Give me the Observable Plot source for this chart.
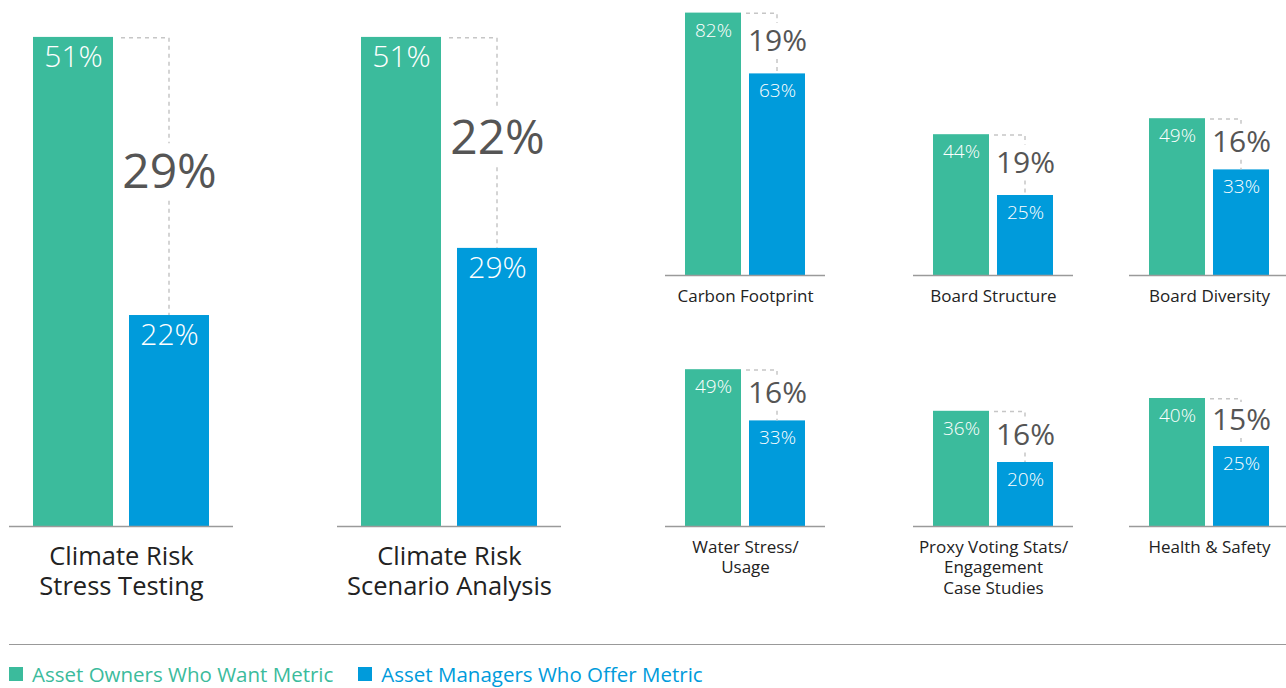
<!DOCTYPE html>
<html><head><meta charset="utf-8">
<script src="https://cdn.jsdelivr.net/npm/d3@7"></script>
<script src="https://cdn.jsdelivr.net/npm/@observablehq/plot@0.6"></script>
<style>
body{margin:0;background:#fff;font-family:"Open Sans",sans-serif;}
#chart{position:relative;width:1286px;height:688px;overflow:hidden;background:#fff;}
.panel{position:absolute;}
.sep{position:absolute;left:9px;top:644px;width:1277px;border-top:1.5px solid #999;}
.legend{position:absolute;top:664px;left:9px;display:flex;align-items:center;font-size:20.5px;line-height:1;white-space:nowrap;}
.item{display:flex;align-items:center;margin-right:25px;}
.sw{width:14px;height:14px;margin-right:9px;}
</style></head><body><div id="chart"></div>
<script>
// ---- data ----
const categories = ["Climate Risk\nStress Testing", "Climate Risk\nScenario Analysis", "Carbon Footprint", "Board Structure", "Board Diversity", "Water Stress/\nUsage", "Proxy Voting Stats/\nEngagement\nCase Studies", "Health & Safety"];
const ownersWant = [51, 51, 82, 44, 49, 49, 36, 40];
const managersOffer = [22, 29, 63, 25, 33, 33, 20, 25];
const gapValues = [29, 22, 19, 19, 16, 16, 16, 15];
const seriesNames = ["Asset Owners Who Want Metric", "Asset Managers Who Offer Metric"];
const seriesKeys = ["want", "offer"];
const seriesColors = ["#3bbb9c", "#009bdb"];

// ---- layout (styling only) ----
const big = {width: 224, height: 620, top: 0, baseline: 526, ppp: 9.59, side: 24, pad: 16/96,
  valueFont: 30, gapFont: 48, labelFont: 25.5, labelDy: 17, lineH: 1.18, valueDy: 8, gapDy: -4, dashStart: 8};
const small = {width: 160, ppp: 3.2, side: 20, pad: 8/64,
  valueFont: 19, gapFont: 30, labelFont: 17, labelDy: 12, lineH: 1.2, valueDy: 10, gapDy: -2, dashStart: 5};
const topRow = {top: 0, height: 325, baseline: 275};
const botRow = {top: 330, height: 280, baseline: 196};
const layout = [
  {left: 9, ...big}, {left: 337, ...big},
  {left: 665, ...small, ...topRow}, {left: 913, ...small, ...topRow}, {left: 1129, ...small, ...topRow},
  {left: 665, ...small, ...botRow}, {left: 913, ...small, ...botRow}, {left: 1129, ...small, ...botRow}
];

const chart = document.getElementById("chart");

categories.forEach((cat, i) => {
  const L = layout[i];
  const want = ownersWant[i], offer = managersOffer[i];
  const rows = [{key: "want", value: want}, {key: "offer", value: offer}];
  const mid = (want + offer) / 2;
  const connector = (index, scales) => {
    const sx = scales.x, sy = scales.y;
    const bw = typeof sx.bandwidth === "function" ? sx.bandwidth() : scales.scales.x.bandwidth;
    const xr = sx("want") + bw + L.dashStart;
    const xc = sx("offer") + bw / 2;
    const y1 = sy(want) + 0.75, y2 = sy(offer);
    const ym = sy(mid) + L.gapDy;
    const h = L.gapFont * 0.6;
    const g = d3.create("svg:g").attr("fill", "none").attr("stroke", "#c6c6c6")
      .attr("stroke-width", 1.5).attr("stroke-dasharray", "4,4");
    g.append("path").attr("d", `M${xr},${y1}H${xc}V${ym - h}`);
    g.append("path").attr("d", `M${xc},${ym + h}V${y2}`);
    return g.node();
  };
  const svg = Plot.plot({
    width: L.width, height: L.height,
    marginLeft: 0, marginRight: 0, marginTop: 0, marginBottom: 0,
    style: {fontFamily: "'Open Sans', sans-serif", background: "transparent", overflow: "visible"},
    x: {domain: seriesKeys, range: [L.side, L.width - L.side], paddingInner: L.pad, paddingOuter: 0, axis: null},
    y: {domain: [0, 100], range: [L.baseline, L.baseline - 100 * L.ppp], axis: null},
    color: {domain: seriesKeys, range: seriesColors},
    marks: [
      Plot.barY(rows, {x: "key", y: "value", fill: "key"}),
      Plot.ruleY([0], {stroke: "#9a9a9a", strokeWidth: 1.5}),
      connector,
      Plot.text(rows, {x: "key", y: "value", text: d => d.value + "%", fill: "white",
        fontSize: L.valueFont, fontWeight: 300, lineAnchor: "top", dy: L.valueDy}),
      Plot.text([gapValues[i]], {x: () => "offer", y: () => mid, text: d => d + "%", fill: "#555",
        fontSize: L.gapFont, lineAnchor: "middle", dy: L.gapDy}),
      Plot.text([cat], {y: () => 0, text: d => d, fill: "#222", fontSize: L.labelFont,
        lineAnchor: "top", lineHeight: L.lineH, dy: L.labelDy})
    ]
  });
  svg.classList.add("panel");
  svg.style.left = L.left + "px";
  svg.style.top = L.top + "px";
  chart.appendChild(svg);
});

const sep = document.createElement("div");
sep.className = "sep";
chart.appendChild(sep);
const legend = document.createElement("div");
legend.className = "legend";
seriesNames.forEach((name, k) => {
  const it = document.createElement("div");
  it.className = "item";
  it.innerHTML = `<span class="sw" style="background:${seriesColors[k]}"></span><span style="color:${seriesColors[k]}">${name}</span>`;
  legend.appendChild(it);
});
chart.appendChild(legend);
</script>
</body></html>
